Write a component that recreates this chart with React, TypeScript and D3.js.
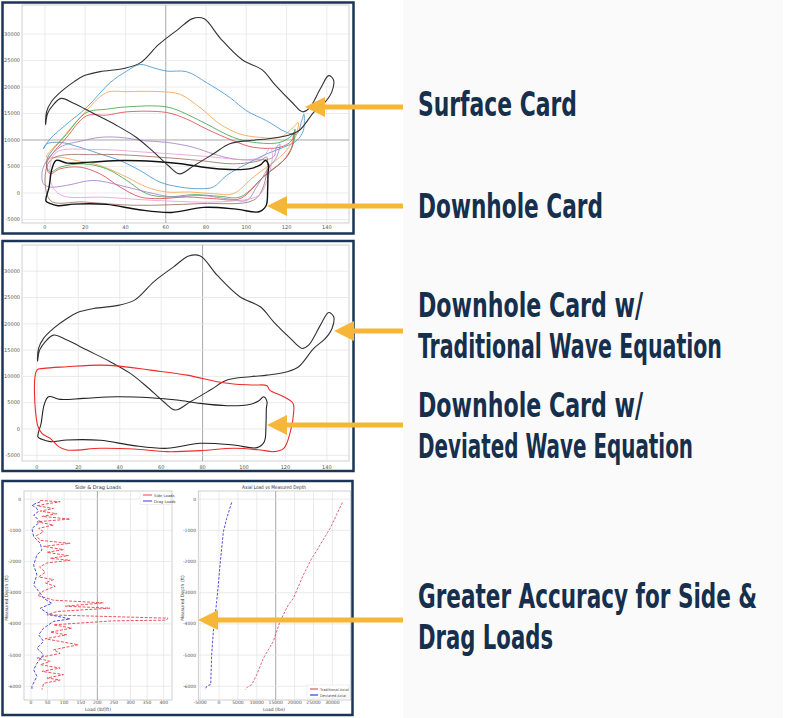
import React, { useLayoutEffect, useRef, useState } from 'react';
import * as d3 from 'd3';

type P = [number, number];

// ---------- Dynamometer cards: [position (in), load (lbs)] ----------
const surfaceCard: P[] = [
  [0.3, 12900], [0.8, 15320], [3.2, 17220], [8, 19120], [14.5, 21010], [19.6, 22150], [27.4, 22900],
  [39.8, 23550], [47.5, 24600], [56.4, 27980], [66, 30830], [73.3, 32900], [78.9, 32900], [87, 29240],
  [98, 25130], [107.9, 23230], [114.3, 20380], [122.4, 17220], [128, 15320], [131.2, 15950], [136.9, 19750],
  [140.9, 22150], [143.3, 21330], [142.5, 19120], [139.3, 17220], [133.7, 15320], [126.4, 11840],
  [120.8, 10890], [111.1, 10250], [103.1, 9940], [91.8, 9300], [83.7, 7400], [74.1, 5190], [66.8, 3610],
  [61.2, 5190], [53.1, 8040], [45.1, 10570], [35.4, 12790], [24.2, 15000], [14.5, 16900], [8, 17850],
  [4, 16580], [1.3, 15000],
];

const downholeTraditional: P[] = [
  [0.5, -1500], [2, 1000], [3.5, 4600], [5.6, 6140], [11.3, 5630], [22.5, 5820], [38.6, 6140], [54.8, 5950],
  [67.6, 5510], [78.9, 4870], [91.8, 4430], [101.4, 4560], [107, 5320], [109.5, 6140], [111.1, 5190],
  [110.8, 3930], [110.6, 760], [109.8, -2400], [106.3, -3540], [95, -3040], [78.9, -2720], [62.8, -3670],
  [46.7, -3160], [30.6, -2150], [14.5, -2090], [6.4, -2400], [2.4, -1960],
];

const downholeDeviated: P[] = [
  [0, 11200], [0.3, 760], [2.4, -820], [6.4, -1770], [10.5, -3350], [14.5, -3990], [30.6, -3670],
  [46.7, -3800], [62.8, -4300], [78.9, -4110], [95, -3670], [107.9, -3990], [114.3, -4300], [119.2, -3670],
  [122.4, -500], [124, 3290], [123.7, 4870], [119.2, 6140], [112.4, 7400], [111.1, 8230], [104.7, 8360],
  [95, 8550], [87, 8990], [72.5, 10250], [54.8, 11200], [39.8, 11960], [30.6, 12150], [14.5, 11840], [3.2, 11520],
];

const cardBlue: P[] = [
  [-0.8, 8310], [2.5, 10190], [10.8, 13000], [20.7, 16125], [32.3, 20810], [40.6, 23000], [47.2, 24250],
  [53.8, 23625], [60.4, 23000], [70.4, 22875], [80.3, 20810], [91.9, 18000], [100.2, 15500], [110.1, 13625],
  [120, 11440], [125, 11125], [127.5, 13625], [128.6, 14875], [128.3, 11750], [125, 9875], [118.4, 8625],
  [110.1, 7375], [100.2, 5500], [90.2, 3310], [83.6, 1125], [77, 810], [67, 1125], [57.1, 2060], [47.2, 4250],
  [37.3, 6125], [27.3, 7375], [17.4, 8625], [7.5, 9560], [0.8, 9250],
];
const cardOrange: P[] = [
  [0.8, 6750], [7.5, 9875], [19, 14875], [30.6, 18940], [40.6, 19125], [57.1, 19125], [67, 18625],
  [77, 16125], [86.9, 13000], [96.9, 11125], [106.8, 10500], [116.7, 10500], [123.3, 12375], [125.8, 13310],
  [125, 11125], [123.3, 9875], [118.4, 7375], [110.1, 4875], [103.5, 3000], [93.5, -125], [83.6, -125],
  [72, 190], [60.4, 190], [50.5, 1125], [40.6, 3000], [27.3, 5190], [15.7, 6125], [7.5, 6750],
];
const cardGreen: P[] = [
  [0.8, 6125], [10.8, 11125], [20.7, 15190], [30.6, 15810], [40.6, 16250], [60.4, 16250], [70.4, 14875],
  [80.3, 13000], [93.5, 10500], [103.5, 9560], [116.7, 9560], [123.3, 11125], [124.2, 12060], [123.3, 9250],
  [120, 6750], [110.1, 3625], [96.9, -750], [86.9, -625], [73.7, -310], [60.4, -750], [50.5, -125],
  [40.6, 2375], [30.6, 4560], [19, 5500], [7.5, 4875], [2.5, 3940],
];
const cardRed: P[] = [
  [0.8, 5500], [10.8, 10500], [20.7, 14560], [30.6, 14690], [40.6, 15310], [60.4, 15190], [70.4, 13940],
  [80.3, 12060], [93.5, 9875], [103.5, 8625], [116.7, 8625], [122.5, 9875], [123.7, 11440], [122.5, 8625],
  [118.4, 6125], [108.4, 3000], [96.9, -1060], [83.6, -1060], [70.4, -750], [57.1, -1060], [47.2, -750],
  [37.3, 1125], [27.3, 3625], [17.4, 4875], [7.5, 4560], [2.5, 3625],
];
const cardPurple: P[] = [
  [-0.8, 4875], [7.5, 8625], [19, 9875], [27.3, 10500], [37.3, 10500], [48.8, 9875], [60.4, 9560],
  [73.7, 8625], [83.6, 7375], [93.5, 6440], [103.5, 6250], [113.4, 6750], [115, 8625], [116.7, 9250],
  [115, 6750], [110.1, 4250], [105.1, 1125], [100.2, -1375], [90.2, -1060], [77, -440], [63.7, -750],
  [50.5, 190], [37.3, 1440], [24, 2375], [10.8, 1440], [2.5, 1125], [-0.8, 1750],
];
const cardBrown: P[] = [
  [2.5, 6125], [27.3, 7250], [57.1, 6750], [77, 6125], [93.5, 5500], [106.8, 6125], [110.1, 6750],
  [108.4, 1125], [103.5, -1375], [77, -2000], [43.9, -2310], [19, -1690], [2.5, -1375],
];
const cardPink: P[] = [
  [5, 7500], [25, 8200], [50, 7700], [80, 6900], [100, 6300], [108, 6800], [112, 8500], [113, 7200],
  [110, 2000], [106, -500], [90, -1600], [60, -1500], [30, -800], [8, -400], [3, 2000],
];

const cardTicksX = [0, 20, 40, 60, 80, 100, 120, 140];
const cardTicksY = [-5000, 0, 5000, 10000, 15000, 20000, 25000, 30000];

// ---------- Side & drag loads: [load (lbf/ft), measured depth (ft)] ----------
const sideLoads: P[] = [
  [28, -43], [88, -85], [48, -150], [18, -213], [68, -300], [28, -384], [78, -469], [33, -554], [118, -640],
  [18, -725], [68, -831], [23, -938], [38, -1045], [16, -1173], [28, -1322], [118, -1418], [38, -1514],
  [98, -1620], [48, -1706], [113, -1812], [58, -1897], [118, -1961], [48, -2047], [26, -2175], [43, -2345],
  [23, -2494], [68, -2580], [43, -2686], [73, -2793], [38, -2942], [20, -3091], [68, -3240], [218, -3326],
  [103, -3432], [238, -3496], [78, -3603], [48, -3710], [413, -3816], [408, -3880], [248, -3902], [68, -4030],
  [123, -4136], [58, -4264], [108, -4349], [43, -4477], [143, -4669], [68, -4829], [88, -4946], [18, -5095],
  [58, -5202], [28, -5309], [88, -5415], [33, -5522], [98, -5628], [48, -5735], [88, -5799], [38, -5906],
  [33, -6108],
];
const dragLoads: P[] = [
  [28, -85], [3, -190], [18, -300], [22, -400], [8, -510], [28, -725], [3, -940], [8, -1200], [28, -1420],
  [33, -1630], [18, -1790], [8, -2110], [18, -2430], [8, -2750], [28, -3020], [38, -3180], [63, -3340],
  [28, -3500], [58, -3710], [118, -3840], [68, -3920], [38, -4140], [23, -4350], [38, -4560], [18, -4780],
  [38, -4990], [18, -5260], [8, -5470], [18, -5680], [3, -6000], [3, -6110],
];
const sideTicksX = [0, 50, 100, 150, 200, 250, 300, 350, 400];
const depthTicks = [0, -1000, -2000, -3000, -4000, -5000, -6000];

// ---------- Axial loads: [load (lbs), measured depth (ft)] ----------
const traditionalAxial: P[] = [
  [32640, -107], [29380, -940], [26730, -1470], [25410, -1740], [24520, -1900], [22320, -2430],
  [19670, -3180], [18350, -3390], [16140, -3920], [14370, -4560], [11730, -5100], [9970, -5630],
  [8640, -5950], [7760, -6000], [6870, -6110],
];
const deviatedAxial: P[] = [
  [3350, -107], [2030, -620], [1150, -1045], [710, -1580], [265, -2110], [-180, -2750], [-620, -3280],
  [-1060, -3820], [-1500, -4240], [-1940, -4990], [-2200, -5950], [-2820, -5970], [-3260, -6000], [-3700, -6110],
];
const axialTicksX = [-5000, 0, 5000, 10000, 15000, 20000, 25000, 30000];

// ---------- Annotations ----------
const annotations = [
  { lines: ['Surface Card'], widths: [159], y: 116, tipX: 305, arrowY: 107 },
  { lines: ['Downhole Card'], widths: [185], y: 218, tipX: 267, arrowY: 206 },
  { lines: ['Downhole Card w/', 'Traditional Wave Equation'], widths: [225, 304], y: 317, tipX: 334, arrowY: 331 },
  { lines: ['Downhole Card w/', 'Deviated Wave Equation'], widths: [225, 275], y: 417, tipX: 267, arrowY: 425 },
  { lines: ['Greater Accuracy for Side &', 'Drag Loads'], widths: [339, 135], y: 608, tipX: 198, arrowY: 620 },
];

const NAVY = '#1b3556';
const ORANGE = '#f6b637';
const TICK_FONT = 'DejaVu Sans, sans-serif';

function Label({ text, x, y, width }: { text: string; x: number; y: number; width: number }) {
  const ref = useRef<SVGTextElement>(null);
  const [s, setS] = useState(0.72);
  useLayoutEffect(() => {
    if (ref.current) {
      const w = ref.current.getComputedTextLength();
      if (w > 0) setS(width / w);
    }
  }, [width, text]);
  return (
    <g transform={`translate(${x},${y}) scale(${s},1)`}>
      <text ref={ref} x={0} y={0} fontSize={34} fontWeight="bold"
        fontFamily="'DejaVu Sans Condensed', 'Liberation Sans Narrow', sans-serif"
        fill="#162f4d">{text}</text>
    </g>
  );
}

function Axes({ x, y, xTicks, yTicks, xLabY, yLabX, darkX, darkY, fs = 5 }: any) {
  const [x0, x1] = x.range();
  const [yb, yt] = y.range();
  return (
    <g>
      <rect x={x0} y={yt} width={x1 - x0} height={yb - yt} fill="#fff" stroke="#c3c3c3" strokeWidth={0.8} />
      {xTicks.map((t: number) => (
        <line key={'gx' + t} x1={x(t)} x2={x(t)} y1={yt} y2={yb}
          stroke={t === darkX ? '#a8a8a8' : '#e2e2e2'} strokeWidth={t === darkX ? 1 : 0.7} />
      ))}
      {yTicks.map((t: number) => (
        <line key={'gy' + t} x1={x0} x2={x1} y1={y(t)} y2={y(t)}
          stroke={t === darkY ? '#a8a8a8' : '#e2e2e2'} strokeWidth={t === darkY ? 1 : 0.7} />
      ))}
      {xTicks.map((t: number) => (
        <text key={'tx' + t} x={x(t)} y={xLabY} fontSize={fs} fontFamily={TICK_FONT} fill="#555" textAnchor="middle">{t}</text>
      ))}
      {yTicks.map((t: number) => (
        <text key={'ty' + t} x={yLabX} y={y(t) + fs * 0.35} fontSize={fs} fontFamily={TICK_FONT} fill="#555" textAnchor="end">{t}</text>
      ))}
    </g>
  );
}

export default function App() {
  // Panel 1
  const x1 = d3.scaleLinear().domain([-11.4, 151]).range([22, 349]);
  const y1 = d3.scaleLinear().domain([-5660, 35470]).range([223, 5]);
  // Panel 2
  const x2 = d3.scaleLinear().domain([-7.2, 150.7]).range([22, 349]);
  const y2 = d3.scaleLinear().domain([-6080, 34980]).range([461, 245]);
  // Panel 3 left / right
  const x3 = d3.scaleLinear().domain([-21, 425]).range([24, 172]);
  const y3 = d3.scaleLinear().domain([-6440, 260]).range([700, 491]);
  const x4 = d3.scaleLinear().domain([-5480, 34840]).range([198.3, 350.7]);

  const loop = (xs: any, ys: any) =>
    d3.line<P>().x(d => xs(d[0])).y(d => ys(d[1])).curve(d3.curveCatmullRomClosed.alpha(0.5));
  const path = (xs: any, ys: any) =>
    d3.line<P>().x(d => xs(d[0])).y(d => ys(d[1])).curve(d3.curveLinear);

  const l1 = loop(x1, y1);
  const l2 = loop(x2, y2);
  const p3 = path(x3, y3);
  const p4 = path(x4, y3);

  const colored: [P[], string][] = [
    [cardBlue, '#3f93cc'], [cardOrange, '#f5a04a'], [cardGreen, '#3aa447'], [cardRed, '#d9474a'],
    [cardPurple, '#a07cc6'], [cardBrown, '#9b6a5c'], [cardPink, '#e59ad0'],
  ];

  return (
    <svg width={800} height={718} style={{ position: 'absolute', left: 0, top: 0, background: '#fff' }}>
      <rect x={0} y={0} width={800} height={718} fill="#fff" />
      <rect x={403} y={0} width={380} height={718} fill="#fafafa" />

      {/* Panel 1: surface + downhole cards */}
      <Axes x={x1} y={y1} xTicks={cardTicksX} yTicks={cardTicksY} xLabY={229} yLabX={20} darkX={60} darkY={10000} />
      {colored.map(([d, c], i) => (
        <path key={i} d={l1(d) || ''} fill="none" stroke={c} strokeWidth={0.9} opacity={0.9} />
      ))}
      <path d={l1(downholeTraditional) || ''} fill="none" stroke="#111" strokeWidth={1.4} />
      <path d={l1(surfaceCard) || ''} fill="none" stroke="#333" strokeWidth={1.1} />
      <rect x={2.5} y={2.5} width={351} height={231} fill="none" stroke={NAVY} strokeWidth={2.5} />

      {/* Panel 2: traditional vs deviated */}
      <Axes x={x2} y={y2} xTicks={cardTicksX} yTicks={cardTicksY} xLabY={469} yLabX={20} darkX={80} darkY={null} />
      <path d={l2(surfaceCard) || ''} fill="none" stroke="#333" strokeWidth={1.1} />
      <path d={l2(downholeTraditional) || ''} fill="none" stroke="#222" strokeWidth={1.1} />
      <path d={l2(downholeDeviated) || ''} fill="none" stroke="#ee2a2a" strokeWidth={1.1} />
      <rect x={2.5} y={241} width={351} height={230} fill="none" stroke={NAVY} strokeWidth={2.5} />

      {/* Panel 3 left: side & drag loads */}
      <Axes x={x3} y={y3} xTicks={sideTicksX} yTicks={depthTicks} xLabY={704} yLabX={21} darkX={200} darkY={null} fs={4.5} />
      <path d={p3(sideLoads) || ''} fill="none" stroke="#e8414a" strokeWidth={0.9} strokeDasharray="3 1.5" />
      <path d={p3(dragLoads) || ''} fill="none" stroke="#3a3ad6" strokeWidth={0.9} strokeDasharray="3 1.5" />
      <text x={98} y={489} fontSize={5} fontFamily={TICK_FONT} fill="#333" textAnchor="middle">Side &amp; Drag Loads</text>
      <text x={98} y={711} fontSize={4.5} fontFamily={TICK_FONT} fill="#444" textAnchor="middle">Load (lbf/ft)</text>
      <text transform="translate(8,598) rotate(-90)" fontSize={4.5} fontFamily={TICK_FONT} fill="#444" textAnchor="middle">Measured Depth (ft)</text>
      <rect x={140} y={491.5} width={31} height={13} fill="#fff" stroke="#ddd" strokeWidth={0.5} />
      <line x1={143} x2={152} y1={495} y2={495} stroke="#e8414a" strokeWidth={1} />
      <line x1={143} x2={152} y1={501} y2={501} stroke="#3a3ad6" strokeWidth={1} />
      <text x={154} y={496.5} fontSize={3.8} fontFamily={TICK_FONT} fill="#444">Side Loads</text>
      <text x={154} y={502.5} fontSize={3.8} fontFamily={TICK_FONT} fill="#444">Drag Loads</text>

      {/* Panel 3 right: axial loads */}
      <Axes x={x4} y={y3} xTicks={axialTicksX} yTicks={depthTicks} xLabY={704} yLabX={196} darkX={15000} darkY={null} fs={4.5} />
      <path d={p4(traditionalAxial) || ''} fill="none" stroke="#e05468" strokeWidth={0.9} strokeDasharray="2.5 1.5" />
      <path d={p4(deviatedAxial) || ''} fill="none" stroke="#3a3ad6" strokeWidth={0.9} strokeDasharray="2.5 1.5" />
      <text x={274} y={489} fontSize={5} fontFamily={TICK_FONT} fill="#333" textAnchor="middle" textLength={64} lengthAdjust="spacingAndGlyphs">Axial Load vs Measured Depth</text>
      <text x={274} y={711} fontSize={4.5} fontFamily={TICK_FONT} fill="#444" textAnchor="middle">Load (lbs)</text>
      <text transform="translate(184,598) rotate(-90)" fontSize={4.5} fontFamily={TICK_FONT} fill="#444" textAnchor="middle">Measured Depth (ft)</text>
      <rect x={307} y={685} width={42} height={13} fill="#fff" stroke="#ddd" strokeWidth={0.5} />
      <line x1={310} x2={318} y1={689} y2={689} stroke="#e05468" strokeWidth={1.2} />
      <line x1={310} x2={318} y1={695} y2={695} stroke="#3a3ad6" strokeWidth={1.2} />
      <text x={320} y={690.5} fontSize={3.6} fontFamily={TICK_FONT} fill="#444">Traditional Axial</text>
      <text x={320} y={696.5} fontSize={3.6} fontFamily={TICK_FONT} fill="#444">Deviated Axial</text>
      <rect x={2.5} y={481} width={350} height={234} fill="none" stroke={NAVY} strokeWidth={2.5} />

      {/* Annotations */}
      {annotations.map((a, i) => (
        <g key={'a' + i}>
          <line x1={a.tipX + 15} x2={403} y1={a.arrowY} y2={a.arrowY} stroke={ORANGE} strokeWidth={5} />
          <polygon points={`${a.tipX},${a.arrowY} ${a.tipX + 20},${a.arrowY - 10} ${a.tipX + 20},${a.arrowY + 10}`} fill={ORANGE} />
          {a.lines.map((t, j) => (
            <Label key={j} text={t} x={418} y={a.y + j * 41} width={a.widths[j]} />
          ))}
        </g>
      ))}
    </svg>
  );
}
